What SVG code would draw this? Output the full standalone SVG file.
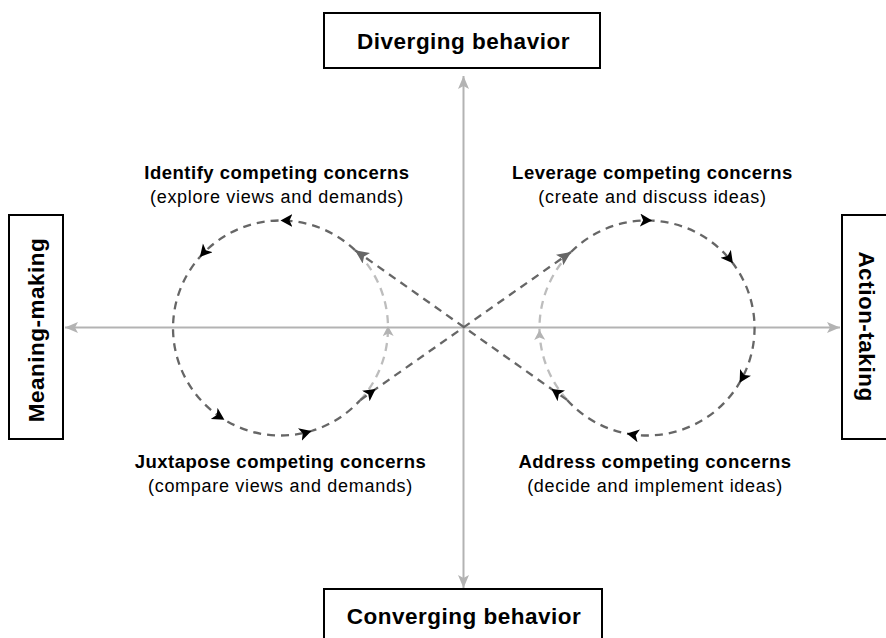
<svg xmlns="http://www.w3.org/2000/svg" width="886" height="638" viewBox="0 0 886 638">
  <style>
    .box { fill: #ffffff; stroke: #000000; stroke-width: 2; }
    .boxlabel { font-family: "Liberation Sans", Arial, sans-serif; font-weight: bold; font-size: 22.5px; letter-spacing: 0.5px; fill: #000000; text-anchor: middle; }
    .title { font-family: "Liberation Sans", Arial, sans-serif; font-weight: bold; font-size: 18.5px; letter-spacing: 0.5px; fill: #000000; text-anchor: middle; }
    .sub { font-family: "Liberation Sans", Arial, sans-serif; font-size: 18px; letter-spacing: 0.7px; fill: #000000; text-anchor: middle; }
    .axis { fill: none; stroke: #b3b3b3; stroke-width: 2; }
    .loop { fill: none; stroke: #666666; stroke-width: 2.3; stroke-dasharray: 8 6; }
    .inner { fill: none; stroke: #bdbdbd; stroke-width: 2.3; stroke-dasharray: 8 6; }
  </style>
  <defs>
    <marker id="axisHead" markerUnits="userSpaceOnUse" markerWidth="14" markerHeight="12" refX="13" refY="5.5" orient="auto">
      <path d="M0,0 L13,5.5 L0,11 L3,5.5 z" fill="#b3b3b3"/>
    </marker>
    <marker id="flowHead" markerUnits="userSpaceOnUse" markerWidth="14" markerHeight="14" refX="12" refY="6.5" orient="auto">
      <path d="M0,0 L12,6.5 L0,13 L3,6.5 z" fill="#000000"/>
    </marker>
    <marker id="joinHead" markerUnits="userSpaceOnUse" markerWidth="15" markerHeight="14" refX="14" refY="6.5" orient="auto">
      <path d="M0,0 L14,6.5 L0,13 L3,6.5 z" fill="#666666"/>
    </marker>
    <marker id="innerHead" markerUnits="userSpaceOnUse" markerWidth="12" markerHeight="12" refX="10" refY="5.5" orient="auto">
      <path d="M0,0 L10,5.5 L0,11 L2.5,5.5 z" fill="#b3b3b3"/>
    </marker>
  </defs>

  <!-- connectors: axes and the figure-eight loop -->
  <g id="connectors">
    <path class="axis" d="M463.5,327.5 L463.5,76" marker-end="url(#axisHead)"/>
    <path class="axis" d="M463.5,327.5 L463.5,588" marker-end="url(#axisHead)"/>
    <path class="axis" d="M463.5,327.5 L65,327.5" marker-end="url(#axisHead)"/>
    <path class="axis" d="M463.5,327.5 L840,327.5" marker-end="url(#axisHead)"/>

    <!-- left loop, outer side (counter-clockwise) -->
    <path class="loop" marker-mid="url(#flowHead)"
          d="M355,250.2 A107.5,107.5 0 0 0 280.5,220.5 A107.5,107.5 0 0 0 199.9,256.9 A107.5,107.5 0 0 0 224.4,419.7 A107.5,107.5 0 0 0 311.4,431 A107.5,107.5 0 0 0 360.1,400.2"/>
    <!-- left loop, inner side -->
    <path class="inner" marker-mid="url(#innerHead)"
          d="M360.1,400.2 A107.5,107.5 0 0 0 388,326.1 A107.5,107.5 0 0 0 355,250.2"/>

    <!-- right loop, outer side (clockwise) -->
    <path class="loop" marker-mid="url(#flowHead)"
          d="M571,252 A107.5,107.5 0 0 1 652.1,220.6 A107.5,107.5 0 0 1 732.9,263.3 A107.5,107.5 0 0 1 739.6,382.7 A107.5,107.5 0 0 1 626.9,433.6 A107.5,107.5 0 0 1 567.1,399.9"/>
    <!-- right loop, inner side -->
    <path class="inner" marker-mid="url(#innerHead)"
          d="M567.1,399.9 A107.5,107.5 0 0 1 539.5,329.9 A107.5,107.5 0 0 1 571,252"/>

    <!-- crossing diagonals -->
    <path class="loop" marker-mid="url(#flowHead)" marker-end="url(#joinHead)"
          d="M360.1,400.2 L375.6,389.1 L571,252"/>
    <path class="loop" marker-mid="url(#flowHead)" marker-end="url(#joinHead)"
          d="M567.1,399.9 L551.5,389 L355,250.2"/>
  </g>

  <!-- axis end nodes -->
  <g id="diverging">
    <rect class="box" x="324" y="13" width="276" height="55"/>
    <text class="boxlabel" x="463.5" y="48.5">Diverging behavior</text>
  </g>
  <g id="converging">
    <rect class="box" x="324" y="589" width="278" height="60"/>
    <text class="boxlabel" x="464" y="623.5">Converging behavior</text>
  </g>
  <g id="meaning-making">
    <rect class="box" x="9" y="215" width="54" height="224"/>
    <text class="boxlabel" transform="translate(44,330) rotate(-90)" x="0" y="0">Meaning-making</text>
  </g>
  <g id="action-taking">
    <rect class="box" x="842" y="215" width="60" height="224"/>
    <text class="boxlabel" transform="translate(859,326.5) rotate(90)" x="0" y="0">Action-taking</text>
  </g>

  <!-- quadrant labels -->
  <g id="identify">
    <text class="title" x="277" y="179">Identify competing concerns</text>
    <text class="sub" x="277" y="203">(explore views and demands)</text>
  </g>
  <g id="leverage">
    <text class="title" x="652.5" y="179">Leverage competing concerns</text>
    <text class="sub" x="652.5" y="203">(create and discuss ideas)</text>
  </g>
  <g id="juxtapose">
    <text class="title" x="280.5" y="468">Juxtapose competing concerns</text>
    <text class="sub" x="280.5" y="492">(compare views and demands)</text>
  </g>
  <g id="address">
    <text class="title" x="655" y="468">Address competing concerns</text>
    <text class="sub" x="655" y="492">(decide and implement ideas)</text>
  </g>
</svg>
